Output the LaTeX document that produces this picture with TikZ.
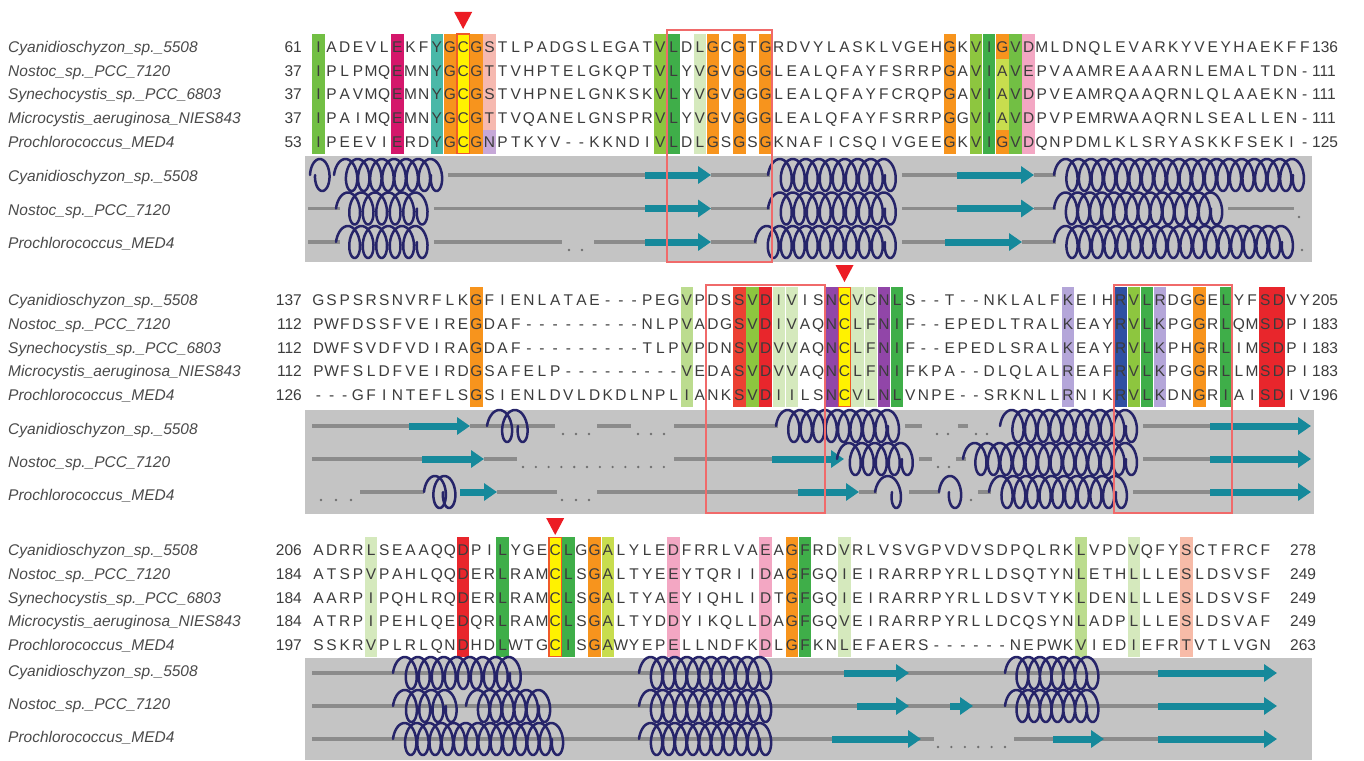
\documentclass[tikz,border=0pt]{standalone}
\usepackage{fontspec}
\setmainfont{Liberation Sans}
\usetikzlibrary{arrows.meta}

\definecolor{txt}{HTML}{3C3C3C}
\definecolor{nametxt}{HTML}{4A4A4A}
\definecolor{grnM}{HTML}{72BF44}
\definecolor{grnD}{HTML}{3FAE49}
\definecolor{grnL}{HTML}{8DC63F}
\definecolor{pale}{HTML}{D5E9BD}
\definecolor{crim}{HTML}{D4176B}
\definecolor{tealc}{HTML}{4AB8A8}
\definecolor{orng}{HTML}{F7941D}
\definecolor{cysY}{HTML}{FFF200}
\definecolor{cysB}{HTML}{F05A28}
\definecolor{salm}{HTML}{F6B9B0}
\definecolor{lav}{HTML}{C6A8D8}
\definecolor{pinkc}{HTML}{F3A7C3}
\definecolor{ylgr}{HTML}{C8DD4E}
\definecolor{redc}{HTML}{E8262C}
\definecolor{redo}{HTML}{EC4133}
\definecolor{purp}{HTML}{9146A8}
\definecolor{lavb}{HTML}{B4A6D9}
\definecolor{blu}{HTML}{2F50A2}
\definecolor{pgrn}{HTML}{BCDC8F}
\definecolor{salmb}{HTML}{F7BBA8}
\definecolor{panelg}{HTML}{C4C4C4}
\definecolor{lineg}{HTML}{8B8B8B}
\definecolor{strandc}{HTML}{16899B}
\definecolor{navy}{HTML}{262469}
\definecolor{boxred}{HTML}{F06A6A}
\definecolor{markred}{HTML}{EC1C24}
\definecolor{dotg}{HTML}{6F6F6F}

\tikzset{
  res/.style={font=\fontsize{15.5}{16}\selectfont, text=txt, inner sep=0pt, anchor=base},
  numl/.style={font=\fontsize{15.5}{16}\selectfont, text=txt, inner sep=0pt, anchor=base east},
  numr/.style={font=\fontsize{15.5}{16}\selectfont, text=txt, inner sep=0pt, anchor=base west},
  taxon/.style={font=\fontsize{15.5}{16}\selectfont\itshape, text=nametxt, inner sep=0pt, anchor=base west},
  ssline/.style={draw=lineg, line width=3.5pt},
  strand/.style={draw=strandc, line width=7pt, -{Triangle[width=17pt,length=13pt]}},
  helixcoil/.style={draw=navy, line width=2.5pt, line join=round, line cap=round},
  hitbox/.style={draw=boxred, line width=2pt},
  cysframe/.style={fill=cysY, draw=cysB, line width=1.2pt},
}

% column centre of alignment position #1
\newcommand\colx[1]{318.5+(#1-1)*13.15}
% coloured background of one column: #1 column, #2 top, #3 bottom, #4 colour
\newcommand\resfill[4]{\fill[#4] ({\colx{#1}-6.2},#2) rectangle ({\colx{#1}+6.2},#3);}
\newcommand\cysfill[3]{\filldraw[cysframe] ({\colx{#1}-6.2},#2) rectangle ({\colx{#1}+6.2},#3);}

% one row of residues, one character per column
\newcount\rescol
\def\resrow#1#2#3{\rescol=0 \def\resrowname{#1}\def\resrowy{#2}\resscan#3\relax}
\def\resscan#1{%
  \ifx\relax#1\else
    \global\advance\rescol by 1
    \node[res] (\resrowname-\the\rescol) at ({\colx{\the\rescol}},{\resrowy+5.6}) {#1};
    \expandafter\resscan
  \fi}

% secondary structure elements: #1 start x, #2 end x, #3 y
\newcommand\ssl[3]{\draw[ssline] (#1,#3) -- (#2,#3);}
\newcommand\sss[3]{\draw[strand] (#1,#3) -- (#2,#3);}
% helix: a coil of whole turns fitted between #1 and #2
\newcommand\ssh[3]{%
  \pgfmathtruncatemacro\hturns{max(1,round((#2-#1-17)/12.5))}%
  \pgfmathsetmacro\hstep{(#2-#1-17)/\hturns}%
  \pgfmathtruncatemacro\hsamples{\hturns*36+1}%
  \draw[helixcoil] plot[domain=0:\hturns*360, samples=\hsamples]
    ({#1+8.5*(1-cos(\x))+(\x/360)*\hstep},{#3-16*sin(\x)});}
\newcommand\ssd[2]{\fill[dotg] (#1,#2) circle (1.3);}

\begin{document}
\begin{tikzpicture}[x=1pt,y=-1pt]
\useasboundingbox (0,0) rectangle (1364,760);
\fill[white] (0,0) rectangle (1364,760);

%================ block 1 =================
\foreach \c/\k in {1/grnM,7/crim,10/tealc,11/orng,13/orng,27/grnL,28/grnD,30/pale,31/orng,33/orng,35/orng,49/orng,51/grnL,52/grnD,54/grnM,55/pinkc}
  {\resfill{\c}{34}{153.5}{\k}}
\resfill{14}{34}{129.8}{salm}
\resfill{14}{129.8}{153.5}{lav}
\resfill{53}{34}{58.6}{orng}
\resfill{53}{58.6}{129.8}{ylgr}
\resfill{53}{129.8}{153.5}{orng}
\cysfill{12}{34}{153.5}

\node[taxon] (n1a) at (8,52.3) {Cyanidioschyzon\_sp.\_5508};
\node[taxon] (n1b) at (8,76.05) {Nostoc\_sp.\_PCC\_7120};
\node[taxon] (n1c) at (8,99.8) {Synechocystis\_sp.\_PCC\_6803};
\node[taxon] (n1d) at (8,123.55) {Microcystis\_aeruginosa\_NIES843};
\node[taxon] (n1e) at (8,147.3) {Prochlorococcus\_MED4};

\node[numl] (l1a) at (302,52.3) {61};
\node[numl] (l1b) at (302,76.05) {37};
\node[numl] (l1c) at (302,99.8) {37};
\node[numl] (l1d) at (302,123.55) {37};
\node[numl] (l1e) at (302,147.3) {53};

\resrow{a1}{46.7}{IADEVLEKFYGCGSTLPADGSLEGATVLDLGCGTGRDVYLASKLVGEHGKVIGVDMLDNQLEVARKYVEYHAEKFF}
\resrow{a2}{70.45}{IPLPMQEMNYGCGTTVHPTELGKQPTVLYVGVGGGLEALQFAYFSRRPGAVIAVEPVAAMREAAARNLEMALTDN-}
\resrow{a3}{94.2}{IPAVMQEMNYGCGSTVHPNELGNKSKVLYVGVGGGLEALQFAYFCRQPGAVIAVDPVEAMRQAAQRNLQLAAEKN-}
\resrow{a4}{117.95}{IPAIMQEMNYGCGTTVQANELGNSPRVLYVGVGGGLEALQFAYFSRRPGGVIAVDPVPEMRWAAQRNLSEALLEN-}
\resrow{a5}{141.7}{IPEEVIERDYGCGNPTKYV--KKNDIVLDLGSGSGKNAFICSQIVGEEGKVIGVDQNPDMLKLSRYASKKFSEKI-}

\node[numr] (r1a) at (1312,52.3) {136};
\node[numr] (r1b) at (1312,76.05) {111};
\node[numr] (r1c) at (1312,99.8) {111};
\node[numr] (r1d) at (1312,123.55) {111};
\node[numr] (r1e) at (1312,147.3) {125};

\fill[markred] ({\colx{12}-9},12) -- ({\colx{12}+9},12) -- ({\colx{12}},29) -- cycle;

% secondary structure, block 1
\fill[panelg] (305,156) rectangle (1312,262);
\node[taxon] (s1a) at (8,181.6) {Cyanidioschyzon\_sp.\_5508};
\node[taxon] (s1b) at (8,215.1) {Nostoc\_sp.\_PCC\_7120};
\node[taxon] (s1c) at (8,248.6) {Prochlorococcus\_MED4};
% row A
\ssl{448}{645}{175} \ssl{711}{770}{175} \ssl{902}{957}{175} \ssl{1034}{1056}{175}
\sss{645}{711}{175} \sss{957}{1034}{175}
\ssh{310}{332}{175} \ssh{334}{448}{175} \ssh{768}{902}{175} \ssh{1054}{1310}{175}
% row B
\ssl{308}{340}{208.5} \ssl{434}{645}{208.5} \ssl{711}{770}{208.5} \ssl{902}{957}{208.5} \ssl{1034}{1056}{208.5} \ssl{1228}{1294}{208.5}
\sss{645}{711}{208.5} \sss{957}{1034}{208.5}
\ssh{336}{434}{208.5} \ssh{768}{902}{208.5} \ssh{1054}{1228}{208.5}
\ssd{1299}{217}
% row C
\ssl{308}{340}{242} \ssl{434}{562}{242} \ssl{594}{645}{242} \ssl{711}{757}{242} \ssl{902}{945}{242} \ssl{1022}{1056}{242}
\sss{645}{711}{242} \sss{945}{1022}{242}
\ssh{336}{434}{242} \ssh{755}{902}{242} \ssh{1054}{1299}{242}
\ssd{569}{250} \ssd{582}{250} \ssd{1302}{250}

\draw[hitbox] ({\colx{28}-6.575},30) rectangle ({\colx{35}+6.575},262);

%================ block 2 =================
\foreach \c/\k in {13/orng,29/pgrn,33/redo,34/grnL,35/redc,36/pale,37/pale,40/purp,42/pale,43/pale,44/purp,45/grnD,58/lavb,62/blu,63/grnL,64/grnD,65/lavb,68/orng,70/grnD,73/redc,74/redc}
  {\resfill{\c}{287.3}{406.8}{\k}}
\cysfill{41}{287.3}{406.8}

\node[taxon] (n2a) at (8,305.6) {Cyanidioschyzon\_sp.\_5508};
\node[taxon] (n2b) at (8,329.35) {Nostoc\_sp.\_PCC\_7120};
\node[taxon] (n2c) at (8,353.1) {Synechocystis\_sp.\_PCC\_6803};
\node[taxon] (n2d) at (8,376.85) {Microcystis\_aeruginosa\_NIES843};
\node[taxon] (n2e) at (8,400.6) {Prochlorococcus\_MED4};

\node[numl] (l2a) at (302,305.6) {137};
\node[numl] (l2b) at (302,329.35) {112};
\node[numl] (l2c) at (302,353.1) {112};
\node[numl] (l2d) at (302,376.85) {112};
\node[numl] (l2e) at (302,400.6) {126};

\resrow{b1}{300}{GSPSRSNVRFLKGFIENLATAE---PEGVPDSSVDIVISNCVCNLS--T--NKLALFKEIHRVLRDGGELYFSDVY}
\resrow{b2}{323.75}{PWFDSSFVEIREGDAF---------NLPVADGSVDIVAQNCLFNIF--EPEDLTRALKEAYRVLKPGGRLQMSDPI}
\resrow{b3}{347.5}{DWFSVDFVDIRAGDAF---------TLPVPDNSVDVVAQNCLFNIF--EPEDLSRALKEAYRVLKPHGRLIMSDPI}
\resrow{b4}{371.25}{PWFSLDFVEIRDGSAFELP---------VEDASVDVVAQNCLFNIFKPA--DLQLALREAFRVLKPGGRLLMSDPI}
\resrow{b5}{395}{---GFINTEFLSGSIENLDVLDKDLNPLIANKSVDIILSNCVLNLVNPE--SRKNLLRNIKRVLKDNGRIAISDIV}

\node[numr] (r2a) at (1312,305.6) {205};
\node[numr] (r2b) at (1312,329.35) {183};
\node[numr] (r2c) at (1312,353.1) {183};
\node[numr] (r2d) at (1312,376.85) {183};
\node[numr] (r2e) at (1312,400.6) {196};

\fill[markred] ({\colx{41}-9},265) -- ({\colx{41}+9},265) -- ({\colx{41}},282) -- cycle;

% secondary structure, block 2
\fill[panelg] (305,410) rectangle (1314,514);
\node[taxon] (s2a) at (8,434.6) {Cyanidioschyzon\_sp.\_5508};
\node[taxon] (s2b) at (8,467.6) {Nostoc\_sp.\_PCC\_7120};
\node[taxon] (s2c) at (8,500.6) {Prochlorococcus\_MED4};
% row A
\ssl{312}{409}{426} \ssl{470}{555}{426} \ssl{597}{631}{426} \ssl{674}{778}{426} \ssl{905}{922}{426} \ssl{958}{968}{426} \ssl{1143}{1210}{426}
\sss{409}{470}{426} \sss{1210}{1311}{426}
\ssh{487}{535}{426} \ssh{776}{905}{426} \ssh{1000}{1143}{426}
\ssd{563}{434} \ssd{576}{434} \ssd{589}{434} \ssd{638}{434} \ssd{651}{434} \ssd{664}{434}
\ssd{937}{434} \ssd{948}{434} \ssd{976}{434} \ssd{987}{434}
% row B
\ssl{312}{422}{459} \ssl{484}{517}{459} \ssl{674}{772}{459} \ssl{919}{932}{459} \ssl{956}{966}{459} \ssl{1143}{1210}{459}
\sss{422}{484}{459} \sss{772}{844}{459} \sss{1210}{1311}{459}
\ssh{837}{919}{459} \ssh{963}{1143}{459}
\foreach \i in {0,...,11} {\ssd{523+\i*12.8}{467}}
\ssd{938}{467} \ssd{949}{467}
% row C
\ssl{360}{424}{492} \ssl{497}{557}{492} \ssl{597}{798}{492} \ssl{859}{877}{492} \ssl{909}{940}{492} \ssl{978}{991}{492} \ssl{1133}{1210}{492}
\sss{460}{497}{492} \sss{798}{859}{492} \sss{1210}{1311}{492}
\ssh{424}{460}{492} \ssh{875}{909}{492} \ssh{939}{966}{492} \ssh{989}{1133}{492}
\ssd{321}{500} \ssd{336}{500} \ssd{351}{500} \ssd{562}{500} \ssd{576}{500} \ssd{589}{500} \ssd{971}{500}

\draw[hitbox] ({\colx{31}-6.575},285) rectangle ({\colx{39}+6.575},513);
\draw[hitbox] ({\colx{62}-6.575},285) rectangle ({\colx{70}+6.575},513);

%================ block 3 =================
\foreach \c/\k in {5/pale,12/redc,15/grnD,20/grnD,22/orng,23/ylgr,28/pinkc,35/pinkc,37/orng,38/grnD,41/pale,59/pgrn,63/pale,67/salmb}
  {\resfill{\c}{537.3}{656.8}{\k}}
\cysfill{19}{537.3}{656.8}

\node[taxon] (n3a) at (8,555.6) {Cyanidioschyzon\_sp.\_5508};
\node[taxon] (n3b) at (8,579.35) {Nostoc\_sp.\_PCC\_7120};
\node[taxon] (n3c) at (8,603.1) {Synechocystis\_sp.\_PCC\_6803};
\node[taxon] (n3d) at (8,626.85) {Microcystis\_aeruginosa\_NIES843};
\node[taxon] (n3e) at (8,650.6) {Prochlorococcus\_MED4};

\node[numl] (l3a) at (302,555.6) {206};
\node[numl] (l3b) at (302,579.35) {184};
\node[numl] (l3c) at (302,603.1) {184};
\node[numl] (l3d) at (302,626.85) {184};
\node[numl] (l3e) at (302,650.6) {197};

\resrow{c1}{550}{ADRRLSEAAQQDPILYGECLGGALYLEDFRRLVAEAGFRDVRLVSVGPVDVSDPQLRKLVPDVQFYSCTFRCF}
\resrow{c2}{573.75}{ATSPVPAHLQQDERLRAMCLSGALTYEEYTQRIIDAGFGQIEIRARRPYRLLDSQTYNLETHLLLESLDSVSF}
\resrow{c3}{597.5}{AARPIPQHLRQDERLRAMCLSGALTYAEYIQHLIDTGFGQIEIRARRPYRLLDSVTYKLDENLLLESLDSVSF}
\resrow{c4}{621.25}{ATRPIPEHLQEDQRLRAMCLSGALTYDDYIKQLLDAGFGQVEIRARRPYRLLDCQSYNLADPLLLESLDSVAF}
\resrow{c5}{645}{SSKRVPLRLQNDHDLWTGCISGAWYEPELLNDFKDLGFKNLEFAERS------NEPWKVIEDIEFRTVTLVGN}

\node[numr] (r3a) at (1290,555.6) {278};
\node[numr] (r3b) at (1290,579.35) {249};
\node[numr] (r3c) at (1290,603.1) {249};
\node[numr] (r3d) at (1290,626.85) {249};
\node[numr] (r3e) at (1290,650.6) {263};

\fill[markred] ({\colx{19}-9},518) -- ({\colx{19}+9},518) -- ({\colx{19}},535) -- cycle;

% secondary structure, block 3
\fill[panelg] (305,658) rectangle (1312,760);
\node[taxon] (s3a) at (8,676.6) {Cyanidioschyzon\_sp.\_5508};
\node[taxon] (s3b) at (8,709.6) {Nostoc\_sp.\_PCC\_7120};
\node[taxon] (s3c) at (8,742.6) {Prochlorococcus\_MED4};
% row A
\ssl{312}{1158}{673}
\sss{844}{909}{673} \sss{1158}{1277}{673}
\ssh{393}{527}{673} \ssh{639}{777}{673} \ssh{1005}{1104}{673}
% row B
\ssl{312}{1158}{706}
\sss{857}{909}{706} \sss{950}{973}{706} \sss{1158}{1277}{706}
\ssh{393}{463}{706} \ssh{466}{556}{706} \ssh{639}{777}{706} \ssh{1005}{1104}{706}
% row C
\ssl{312}{934}{739} \ssl{1014}{1158}{739}
\sss{832}{921}{739} \sss{1053}{1104}{739} \sss{1158}{1277}{739}
\ssh{393}{569}{739} \ssh{639}{777}{739}
\foreach \i in {0,...,5} {\ssd{938+\i*13.4}{747}}
\end{tikzpicture}
\end{document}
